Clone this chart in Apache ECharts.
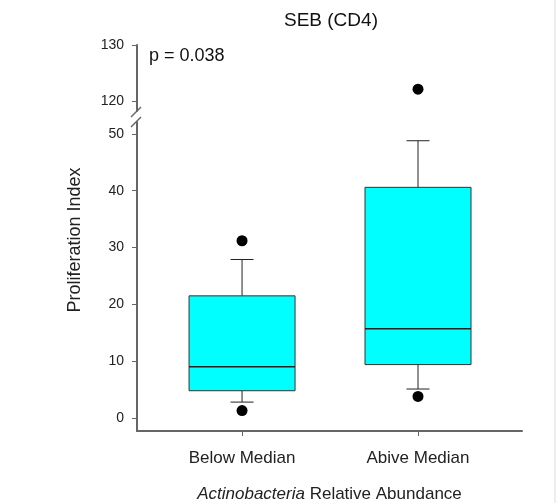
<!DOCTYPE html>
<html>
<head>
<meta charset="utf-8">
<script src="https://cdn.jsdelivr.net/npm/echarts@6/dist/echarts.min.js"></script>
<style>
html,body{margin:0;padding:0;background:#fff}
#container{width:557px;height:503px}
</style>
</head>
<body>
<div id="container"></div>
<script>
var categories = ['Below Median', 'Abive Median'];
// box stats: [lower whisker, Q1, median, Q3, upper whisker]
var belowStats = [2.8, 4.8, 9.0, 21.5, 27.9];
var aboveStats = [5.1, 9.4, 15.7, 40.6, 48.8];
// outliers as [category index, value]
var lowerOutliers = [[0, 31.2], [0, 1.3], [1, 3.8]];
var upperOutliers = [[1, 122.1]];
var lowerTicks = [0, 10, 20, 30, 40, 50];
var upperTicks = [120, 130];
var catTicks = [0, 1];

var font = "'Liberation Sans', Arial, sans-serif";

(function(){
    var myChart = echarts.init(document.getElementById('container'));

    var boxData = [
        [0].concat(belowStats),
        [1].concat(aboveStats)
    ];

    function renderBox(params, api) {
        var x = api.value(0);
        var lo = api.coord([x, api.value(1)]);
        var q1 = api.coord([x, api.value(2)]);
        var med = api.coord([x, api.value(3)]);
        var q3 = api.coord([x, api.value(4)]);
        var hi = api.coord([x, api.value(5)]);
        var cx = lo[0], hw = 53, cw = 11.5;
        var ln = {stroke: '#222', lineWidth: 1};
        return {
            type: 'group',
            children: [
                {type: 'line', shape: {x1: cx, y1: hi[1], x2: cx, y2: q3[1]}, style: ln},
                {type: 'line', shape: {x1: cx, y1: q1[1], x2: cx, y2: lo[1]}, style: ln},
                {type: 'line', shape: {x1: cx - cw, y1: hi[1], x2: cx + cw, y2: hi[1]}, style: ln},
                {type: 'line', shape: {x1: cx - cw, y1: lo[1], x2: cx + cw, y2: lo[1]}, style: ln},
                {type: 'rect', shape: {x: cx - hw, y: q3[1], width: hw * 2, height: q1[1] - q3[1]},
                    style: {fill: '#00FFFF', stroke: '#333', lineWidth: 1}},
                {type: 'line', shape: {x1: cx - hw, y1: med[1], x2: cx + hw, y2: med[1]},
                    style: {stroke: '#222', lineWidth: 1.5}}
            ]
        };
    }

    var axisColor = '#666';
    var xMin = -0.597, xMax = 1.591;

    var option = {
        backgroundColor: '#fff',
        animation: false,
        title: {
            text: 'SEB (CD4)',
            left: 279,
            top: 6,
            textStyle: {fontFamily: font, fontSize: 19, fontWeight: 'normal', color: '#111'}
        },
        grid: [
            {left: 137, right: 35, top: 45, height: 66, outerBoundsMode: 'none', containLabel: false},
            {left: 137, right: 35, top: 122, height: 309, outerBoundsMode: 'none', containLabel: false}
        ],
        xAxis: [
            {gridIndex: 0, type: 'value', min: xMin, max: xMax, show: false},
            {
                gridIndex: 1, type: 'value', min: xMin, max: xMax,
                splitLine: {show: false},
                axisLine: {onZero: false, lineStyle: {color: axisColor, width: 2}},
                axisTick: {customValues: catTicks, length: 5, lineStyle: {color: axisColor}},
                axisLabel: {
                    customValues: catTicks,
                    formatter: function (v) { return categories[Math.round(v)]; },
                    fontFamily: font, fontSize: 17, color: '#222', margin: 19
                },
                name: '{i|Actinobacteria} Relative Abundance',
                nameLocation: 'middle',
                nameGap: 55,
                nameTextStyle: {
                    fontFamily: font, fontSize: 17, color: '#222',
                    rich: {i: {fontFamily: font, fontSize: 17, color: '#222', fontStyle: 'italic'}}
                }
            }
        ],
        yAxis: [
            {
                gridIndex: 0, type: 'value', min: 118.2, max: 130,
                splitLine: {show: false},
                axisLine: {show: true, onZero: false, lineStyle: {color: axisColor, width: 2}},
                axisTick: {show: true, customValues: upperTicks, length: 5, lineStyle: {color: axisColor}},
                axisLabel: {customValues: upperTicks, fontFamily: font, fontSize: 14, color: '#222', margin: 13}
            },
            {
                gridIndex: 1, type: 'value', min: -2.29, max: 52.1,
                splitLine: {show: false},
                axisLine: {show: true, onZero: false, lineStyle: {color: axisColor, width: 2}},
                axisTick: {show: true, customValues: lowerTicks, length: 5, lineStyle: {color: axisColor}},
                axisLabel: {customValues: lowerTicks, fontFamily: font, fontSize: 14, color: '#222', margin: 13}
            }
        ],
        graphic: [
            {type: 'line', shape: {x1: 131, y1: 117, x2: 141, y2: 107}, style: {stroke: axisColor, lineWidth: 1.5}},
            {type: 'line', shape: {x1: 131, y1: 127, x2: 141, y2: 117}, style: {stroke: axisColor, lineWidth: 1.5}},
            {type: 'text', x: 149, y: 56,
                style: {text: 'p = 0.038', fontFamily: font, fontSize: 18, fill: '#111', textVerticalAlign: 'middle'}},
            {type: 'text', x: 75, y: 240, rotation: Math.PI / 2,
                style: {text: 'Proliferation Index', fontFamily: font, fontSize: 18, fill: '#222',
                    textAlign: 'center', textVerticalAlign: 'middle'}},
            {type: 'line', shape: {x1: 555, y1: 0, x2: 555, y2: 503}, style: {stroke: '#ddd', lineWidth: 1}}
        ],
        series: [
            {
                type: 'custom',
                xAxisIndex: 1, yAxisIndex: 1,
                renderItem: renderBox,
                encode: {x: 0, y: [1, 2, 3, 4, 5]},
                data: boxData
            },
            {
                type: 'scatter',
                xAxisIndex: 1, yAxisIndex: 1,
                symbolSize: 11,
                itemStyle: {color: '#000', opacity: 1},
                data: lowerOutliers
            },
            {
                type: 'scatter',
                xAxisIndex: 0, yAxisIndex: 0,
                symbolSize: 11,
                itemStyle: {color: '#000', opacity: 1},
                data: upperOutliers
            }
        ]
    };
    myChart.setOption(option);
})();
</script>
</body>
</html>
